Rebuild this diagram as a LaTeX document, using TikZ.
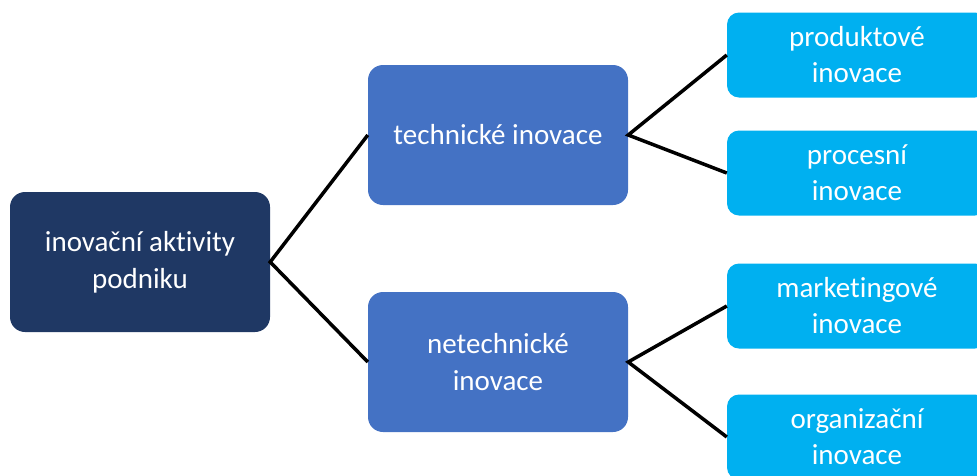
\documentclass[tikz,border=0pt]{standalone}
\usepackage{fontspec}
\setmainfont{Carlito}[Ligatures=NoCommon]
\usepackage{tikz}
\usetikzlibrary{positioning}
\definecolor{rootnavy}{RGB}{31,56,100}
\definecolor{midblue}{RGB}{68,114,196}
\definecolor{leafcyan}{RGB}{0,176,240}
\tikzset{
    blk/.style={rectangle, fill=#1, rounded corners=15pt, text=white,
                minimum height=140pt, minimum width=260pt, align=center,
                font=\fontsize{29}{37}\selectfont, inner sep=0pt},
    leaf/.style={rectangle, fill=leafcyan, rounded corners=12pt, text=white,
                 minimum height=85pt, minimum width=260pt, align=center,
                 font=\fontsize{29}{36}\selectfont, inner sep=0pt},
    link/.style={line width=3.5pt, black},
}

\begin{document}
\begin{tikzpicture}[x=1pt, y=-1pt]
    \useasboundingbox (0,0) rectangle (977,475);
    \clip (0,0) rectangle (977,475);
    % levels of the tree
    \node[blk=rootnavy] (akt) at (140,262) {inovační aktivity\\podniku};
    \node[blk=midblue] (tech) at (498,135) {technické inovace};
    \node[blk=midblue] (netech) at (498,362) {netechnické\\inovace};
    \node[leaf] (prod) at (857,55) {produktové\\inovace};
    \node[leaf] (proc) at (857,173) {procesní\\inovace};
    \node[leaf] (mark) at (857,306) {marketingové\\inovace};
    \node[leaf] (org) at (857,437) {organizační\\inovace};
    % branches
    \draw[link] (tech.west) -- (akt.east) -- (netech.west);
    \draw[link] (prod.west) -- (tech.east) -- (proc.west);
    \draw[link] (mark.west) -- (netech.east) -- (org.west);
\end{tikzpicture}
\end{document}
